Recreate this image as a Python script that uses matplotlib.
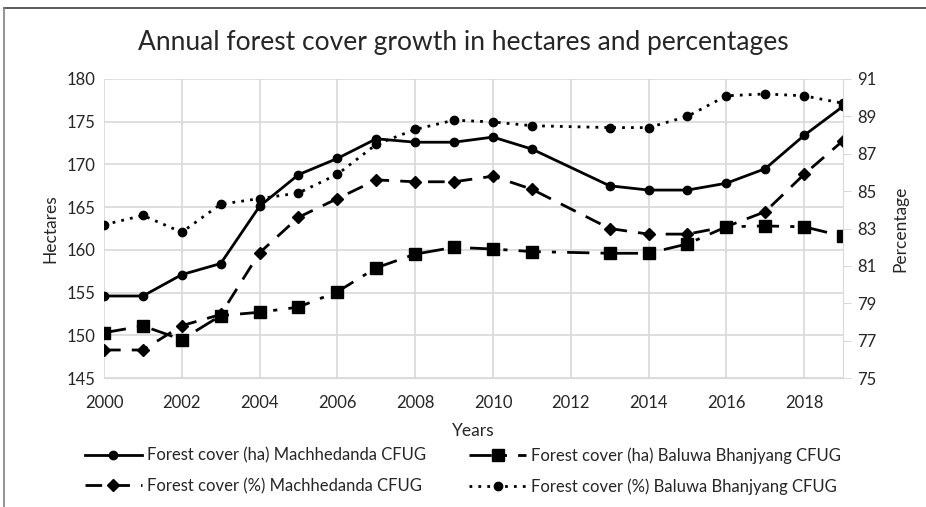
import matplotlib
matplotlib.use("Agg")
from matplotlib import pyplot as plt
from matplotlib.lines import Line2D

years = [2000, 2001, 2002, 2003, 2004, 2005, 2006, 2007, 2008, 2009,
         2010, 2011, 2013, 2014, 2015, 2016, 2017, 2018, 2019]

# hectares
ha_machhedanda = [154.6, 154.6, 157.1, 158.4, 165.1, 168.8, 170.7, 173.0, 172.6, 172.6,
                  173.2, 171.8, 167.5, 167.0, 167.0, 167.8, 169.5, 173.4, 176.8]
ha_baluwa = [150.3, 151.1, 149.5, 152.3, 152.7, 153.3, 155.1, 157.9, 159.5, 160.3,
             160.1, 159.8, 159.6, 159.6, 160.7, 162.7, 162.8, 162.7, 161.6]

# percentages
pct_machhedanda = [76.5, 76.5, 77.8, 78.4, 81.7, 83.6, 84.6, 85.6, 85.5, 85.5,
                   85.8, 85.1, 83.0, 82.7, 82.7, 83.1, 83.9, 85.9, 87.7]
pct_baluwa = [83.2, 83.7, 82.8, 84.3, 84.6, 84.9, 85.9, 87.5, 88.3, 88.8,
              88.7, 88.5, 88.4, 88.4, 89.0, 90.1, 90.2, 90.1, 89.7]

plt.rcParams['font.family'] = ['Lato', 'DejaVu Sans']
grid_col = '#d9d9d9'
txt_col = '#262626'

fig = plt.figure(figsize=(9.26, 5.07), dpi=100)
ax = fig.add_axes([0.1123, 0.2544, 0.7981, 0.5898])
ax2 = ax.twinx()

l1, = ax.plot(years, ha_machhedanda, color='black', lw=2, marker='o', ms=6,
              label='Forest cover (ha) Machhedanda CFUG')
l2, = ax.plot(years, ha_baluwa, color='black', lw=2, marker='s', ms=9,
              dashes=(8, 4, 1.5, 4), label='Forest cover (ha) Baluwa Bhanjyang CFUG')
l3, = ax2.plot(years, pct_machhedanda, color='black', lw=2, marker='D', ms=6,
               dashes=(6, 4), label='Forest cover (%) Machhedanda CFUG')
l4, = ax2.plot(years, pct_baluwa, color='black', lw=2, marker='o', ms=6,
               dashes=(1, 2.2), label='Forest cover (%) Baluwa Bhanjyang CFUG')

ax.set_xlim(2000, 2019)
ax.set_ylim(145, 180)
ax.set_xticks(range(2000, 2019, 2))
ax.set_yticks(range(145, 181, 5))
ax2.set_ylim(75, 91)
ax2.set_yticks(range(75, 92, 2))

ax.grid(True, color=grid_col, lw=1.2)
ax.set_axisbelow(True)
for a in (ax, ax2):
    for s in ('top', 'left'):
        a.spines[s].set_visible(False)
    a.spines['bottom'].set_color(grid_col)
    a.spines['right'].set_color(grid_col)
    a.tick_params(labelsize=12, colors=txt_col)
ax.tick_params(axis='y', length=0, pad=6)
ax.tick_params(axis='x', length=0, pad=12)
ax2.spines['right'].set_visible(True)
ax2.tick_params(axis='y', length=6, color=grid_col, pad=4)
ax.spines['right'].set_visible(False)

ax.set_ylabel('Hectares', fontsize=12.5, color=txt_col, labelpad=6)
ax2.set_ylabel('Percentage', fontsize=12.5, color=txt_col, labelpad=12)
ax.set_xlabel('Years', fontsize=12.5, color=txt_col, labelpad=9)
fig.suptitle('Annual forest cover growth in hectares and percentages',
             fontsize=19, color=txt_col, y=0.94)

# column-wise fill: row 1 = ha series, row 2 = % series
leg = fig.legend(handles=[l1, l3, l2, l4], loc='lower center', ncol=2,
                 bbox_to_anchor=(0.5, -0.005), frameon=False, fontsize=12,
                 handlelength=3.4, columnspacing=2.6, labelspacing=0.85, handletextpad=0.3)
for t in leg.get_texts():
    t.set_color(txt_col)

# partial frame like the source image: top and left edges only
W, H = 926.0, 507.0
fig.add_artist(Line2D([4 / W, 1], [1 - 8 / H, 1 - 8 / H], transform=fig.transFigure,
                      color='#404040', lw=1.2))
fig.add_artist(Line2D([4 / W, 4 / W], [0, 1 - 8 / H], transform=fig.transFigure,
                      color='#808080', lw=1.2))

fig.savefig('out.png', dpi=100)
